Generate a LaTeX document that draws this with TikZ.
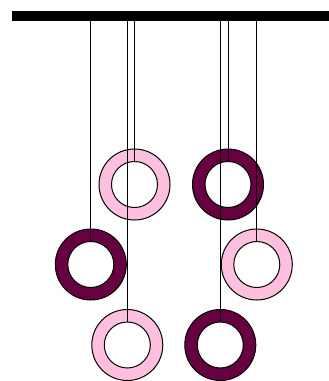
\documentclass[tikz,border=0pt]{standalone}
\definecolor{ringpink}{RGB}{255,192,224}
\definecolor{ringdark}{RGB}{102,0,64}
\begin{document}
\begin{tikzpicture}[x=1pt,y=-1pt,line width=1pt,
	ring/.style={circle,draw,minimum size=71pt,inner sep=0pt},
	hole/.style={circle,draw,fill=white,minimum size=46pt,inner sep=0pt}]
			\useasboundingbox (0,0) rectangle (329,381);
			\fill (12,11) rectangle (329,20.5);
			% rings
			\node[ring,fill=ringpink] (a) at (134.5,184.5) {};
			\node[hole] (ah) at (a) {};
			\node[ring,fill=ringdark] (b) at (90.8,264.5) {};
			\node[hole] (bh) at (b) {};
			\node[ring,fill=ringpink] (c) at (127.3,345) {};
			\node[hole] (ch) at (c) {};
			\node[ring,fill=ringdark] (d) at (228,184.5) {};
			\node[hole] (dh) at (d) {};
			\node[ring,fill=ringpink] (e) at (256.8,264.5) {};
			\node[hole] (eh) at (e) {};
			\node[ring,fill=ringdark] (f) at (220.3,345) {};
			\node[hole] (fh) at (f) {};
			% strings
			\foreach \r in {a,b,c,d,e,f}
				\draw (\r h.north |- 0,20) -- (\r h.north);
		\end{tikzpicture}
\end{document}
